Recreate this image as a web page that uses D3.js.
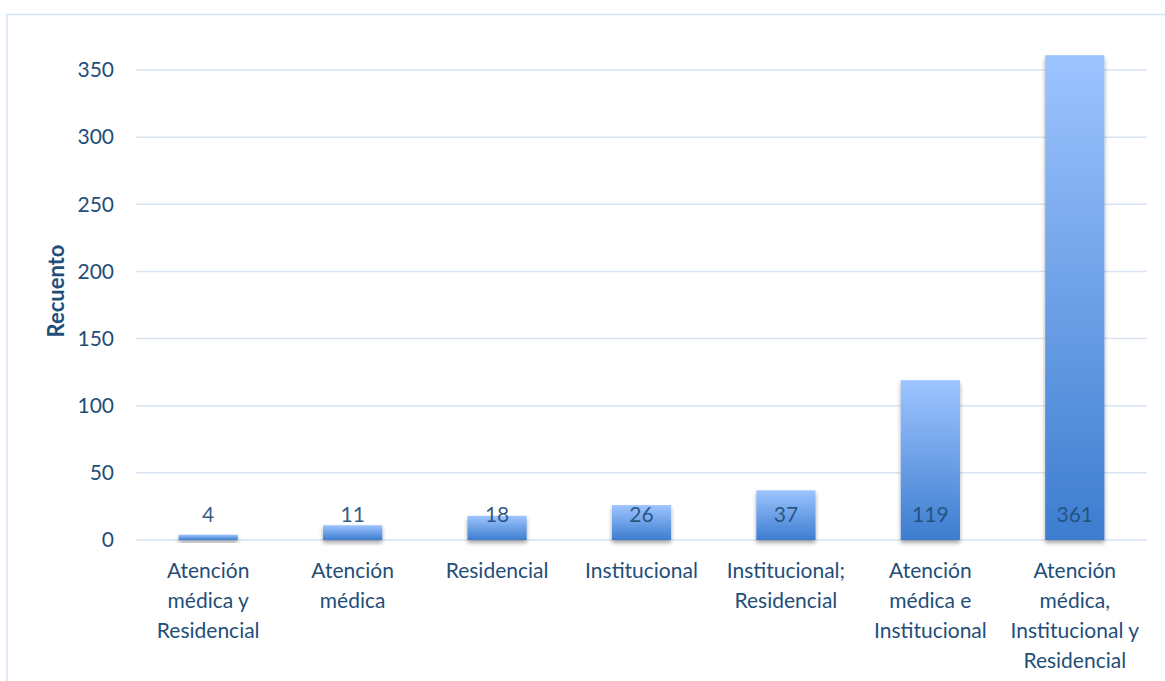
<!DOCTYPE html>
<html>
<head>
<meta charset="utf-8">
<script src="https://cdn.jsdelivr.net/npm/d3@7"></script>
<style>
  html, body { margin: 0; padding: 0; background: #fff; }
  svg { display: block; font-family: Lato, "Open Sans", sans-serif; }
</style>
</head>
<body>
<svg id="chart" width="1165" height="681"></svg>
<script>
// Counts per type of service
const categories = [
  ["Atención", "médica y", "Residencial"],
  ["Atención", "médica"],
  ["Residencial"],
  ["Institucional"],
  ["Institucional;", "Residencial"],
  ["Atención", "médica e", "Institucional"],
  ["Atención", "médica,", "Institucional y", "Residencial"]
];
const values = [4, 11, 18, 26, 37, 119, 361];
const yTicks = [0, 50, 100, 150, 200, 250, 300, 350];
const yTitle = "Recuento";

const svg = d3.select("#chart");
const W = 1165, H = 681;
const margin = { left: 136, right: 18, top: 70, bottom: 141 };
const textColor = "#1f4e79";

// outer frame
svg.append("rect")
  .attr("x", 7).attr("y", 14.5)
  .attr("width", W + 10).attr("height", H + 10)
  .attr("fill", "none").attr("stroke", "#d5e3f5").attr("stroke-width", 1.5);

const keys = categories.map(c => c.join(" "));
const x = d3.scaleBand()
  .domain(keys)
  .range([margin.left, W - margin.right])
  .paddingInner(0.59).paddingOuter(0.295);

const y = d3.scaleLinear()
  .domain([0, 350])
  .range([H - margin.bottom, margin.top]);

const defs = svg.append("defs");
const grad = defs.append("linearGradient")
  .attr("id", "barFill").attr("x1", 0).attr("y1", 0).attr("x2", 0).attr("y2", 1);
grad.append("stop").attr("offset", "0%").attr("stop-color", "#9dc4ff");
grad.append("stop").attr("offset", "100%").attr("stop-color", "#3d7dcf");

const shadow = defs.append("filter").attr("id", "barShadow")
  .attr("x", "-20%").attr("y", "-20%").attr("width", "140%").attr("height", "160%");
shadow.append("feGaussianBlur").attr("in", "SourceAlpha").attr("stdDeviation", 2);
shadow.append("feOffset").attr("dx", 0).attr("dy", 2.5).attr("result", "off");
shadow.append("feComponentTransfer").append("feFuncA").attr("type", "linear").attr("slope", 0.35);
const merge = shadow.append("feMerge");
merge.append("feMergeNode");
merge.append("feMergeNode").attr("in", "SourceGraphic");

// gridlines
svg.append("g")
  .selectAll("line")
  .data(yTicks)
  .join("line")
  .attr("x1", margin.left).attr("x2", W - margin.right)
  .attr("y1", d => y(d)).attr("y2", d => y(d))
  .attr("stroke", "#d9e4f2").attr("stroke-width", 1.5);

// y axis labels
const yAxis = d3.axisLeft(y).tickValues(yTicks).tickSize(0).tickPadding(22);
const yg = svg.append("g").attr("transform", `translate(${margin.left},0)`).call(yAxis);
yg.select(".domain").remove();
yg.selectAll("text")
  .attr("fill", textColor).attr("font-size", 21)
  .attr("font-family", "Lato, sans-serif");

// y title
svg.append("text")
  .attr("transform", `translate(64, 291) rotate(-90)`)
  .attr("text-anchor", "middle")
  .attr("fill", textColor).attr("font-size", 22).attr("font-weight", "bold")
  .text(yTitle);

// bars
svg.append("g")
  .selectAll("rect")
  .data(values)
  .join("rect")
  .attr("x", (d, i) => x(keys[i]))
  .attr("width", x.bandwidth())
  .attr("y", d => y(d))
  .attr("height", d => y(0) - y(d))
  .attr("fill", "url(#barFill)")
  .attr("filter", "url(#barShadow)");

// value labels, placed near the base
svg.append("g")
  .selectAll("text")
  .data(values)
  .join("text")
  .attr("x", (d, i) => x(keys[i]) + x.bandwidth() / 2)
  .attr("y", y(0) - 18)
  .attr("text-anchor", "middle")
  .attr("fill", textColor).attr("fill-opacity", 0.92)
  .attr("font-size", 21)
  .text(d => d);

// category labels
const cat = svg.append("g")
  .selectAll("text")
  .data(categories)
  .join("text")
  .attr("x", (d, i) => x(keys[i]) + x.bandwidth() / 2)
  .attr("y", y(0) + 38)
  .attr("text-anchor", "middle")
  .attr("fill", textColor).attr("font-size", 21);
cat.selectAll("tspan")
  .data(d => d)
  .join("tspan")
  .attr("x", function() { return this.parentNode.getAttribute("x"); })
  .attr("dy", (d, i) => i === 0 ? 0 : 30)
  .text(d => d);
</script>
</body>
</html>
